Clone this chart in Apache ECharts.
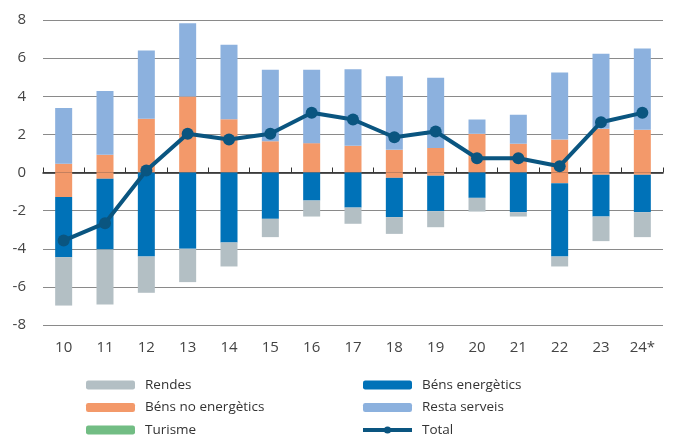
<!DOCTYPE html>
<html>
<head>
<meta charset="utf-8">
<script src="https://cdn.jsdelivr.net/npm/echarts@6/dist/echarts.min.js"></script>
<style>
  html, body {margin: 0; padding: 0; background: #fff;}
  #main {width: 678px; height: 438px;}
</style>
</head>
<body>
<div id="main"></div>
<script>
// anys
const categories = ['10', '11', '12', '13', '14', '15', '16', '17', '18', '19', '20', '21', '22', '23', '24*'];
// contribucions (punts percentuals)
const rendes = [-2.54, -2.89, -1.90, -1.75, -1.26, -0.96, -0.84, -0.85, -0.88, -0.84, -0.72, -0.23, -0.52, -1.29, -1.31];
const bensEnergetics = [-3.15, -3.71, -4.41, -4.00, -3.67, -2.43, -1.47, -1.84, -2.06, -1.86, -1.33, -2.08, -3.85, -2.19, -1.96];
const bensNoEnergeticsPos = [0.46, 0.93, 2.82, 3.99, 2.80, 1.64, 1.54, 1.40, 1.19, 1.29, 2.03, 1.51, 1.73, 2.29, 2.24];
const bensNoEnergeticsNeg = [-1.29, -0.33, 0, 0, 0, 0, 0, 0, -0.28, -0.17, 0, 0, -0.56, -0.12, -0.12];
const restaServeis = [2.93, 3.34, 3.58, 3.84, 3.90, 3.75, 3.85, 4.02, 3.86, 3.68, 0.75, 1.52, 3.52, 3.94, 4.27];
const turisme = [0, 0, 0, 0, 0, 0, 0, 0, 0, 0, 0, 0, 0, 0, 0];
const total = [-3.57, -2.66, 0.10, 2.03, 1.73, 2.03, 3.13, 2.78, 1.85, 2.15, 0.75, 0.75, 0.33, 2.64, 3.13];
const yTicks = [-8, -6, -4, -2, 0, 2, 4, 6, 8];

const colGris = '#b3bfc4';
const colBlau = '#0072b8';
const colTaronja = '#f3996a';
const colBlauClar = '#8cb1de';
const colVerd = '#72bd84';
const colTotal = '#0a5580';

let myChart = echarts.init(document.getElementById('main'));

const barBase = {
  type: 'bar',
  stack: 'a',
  barWidth: 17,
  xAxisIndex: 0
};

const legendText = {
  fontFamily: 'Open Sans',
  fontSize: 13.5,
  color: '#333',
  lineHeight: 16,
  padding: [0, 0, 0, 5]
};

let option = {
  animation: false,
  textStyle: {fontFamily: 'Open Sans'},
  grid: {left: 43, right: 15, top: 20, bottom: 113},
  legend: [
    {
      left: 86, top: 377, height: 80, padding: 0, orient: 'vertical',
      itemWidth: 49, itemHeight: 9, itemGap: 6.5,
      data: ['Rendes', 'Béns no energètics', 'Turisme'],
      textStyle: legendText
    },
    {
      left: 361, top: 377, height: 80, padding: 0, orient: 'vertical',
      itemWidth: 49, itemHeight: 9, itemGap: 6.5,
      data: ['Béns energètics', 'Resta serveis', {name: 'Total', lineStyle: {width: 4}}],
      textStyle: legendText
    }
  ],
  xAxis: [
    {
      type: 'category',
      data: categories,
      axisLine: {show: false, onZero: false},
      axisTick: {show: false},
      axisLabel: {color: '#444', fontSize: 15, margin: 15}
    },
    {
      // línia del zero amb marques
      type: 'category',
      data: categories,
      position: 'bottom',
      axisLine: {show: true, onZero: true, lineStyle: {color: '#222', width: 1.5}},
      axisTick: {show: true, inside: true, length: 5, lineStyle: {color: '#333'}},
      axisLabel: {show: false},
      splitLine: {show: false}
    }
  ],
  yAxis: {
    type: 'value',
    min: yTicks[0],
    max: yTicks[yTicks.length - 1],
    interval: 2,
    axisLine: {show: false},
    axisTick: {show: false},
    axisLabel: {color: '#444', fontSize: 15, margin: 17},
    splitLine: {lineStyle: {color: '#8a8a8a', width: 1}}
  },
  series: [
    Object.assign({}, barBase, {name: 'Béns no energètics', data: bensNoEnergeticsPos, itemStyle: {color: colTaronja}}),
    Object.assign({}, barBase, {name: 'Béns no energètics', data: bensNoEnergeticsNeg, itemStyle: {color: colTaronja}}),
    Object.assign({}, barBase, {name: 'Béns energètics', data: bensEnergetics, itemStyle: {color: colBlau}}),
    Object.assign({}, barBase, {name: 'Resta serveis', data: restaServeis, itemStyle: {color: colBlauClar}}),
    Object.assign({}, barBase, {name: 'Rendes', data: rendes, itemStyle: {color: colGris}}),
    Object.assign({}, barBase, {name: 'Turisme', data: turisme, itemStyle: {color: colVerd}}),
    {
      name: 'Total',
      type: 'line',
      data: total,
      z: 5,
      symbol: 'circle',
      symbolSize: 12,
      showAllSymbol: true,
      lineStyle: {color: colTotal, width: 4},
      itemStyle: {color: colTotal}
    }
  ]
};

option && myChart.setOption(option);
</script>
</body>
</html>
